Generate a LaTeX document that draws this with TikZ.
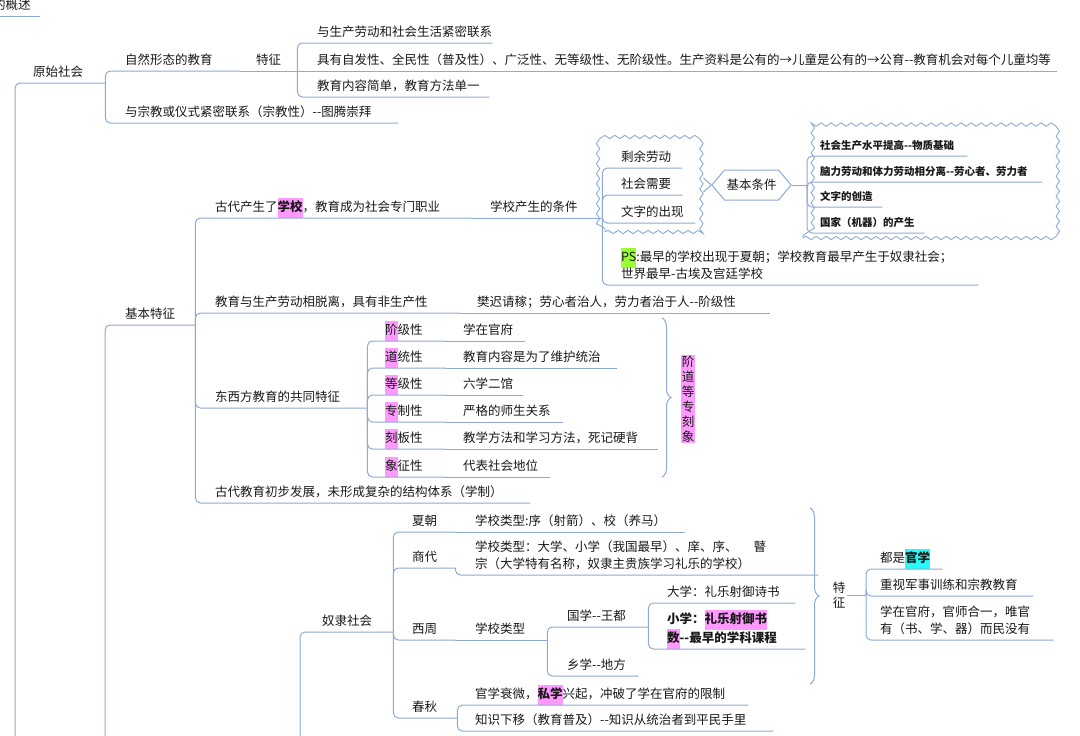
\documentclass[tikz,border=0pt]{standalone}
\usepackage{fontspec}
\setmainfont{Noto Sans CJK SC}[Ligatures=TeXOff]
\usetikzlibrary{decorations.pathmorphing,decorations.pathreplacing,shapes.symbols}
\exhyphenpenalty=10000
\definecolor{linkblue}{RGB}{143,170,214}
\definecolor{hlpink}{RGB}{255,153,255}
\definecolor{hlgreen}{RGB}{153,255,51}
\definecolor{hlcyan}{RGB}{40,250,250}
\definecolor{ink}{RGB}{25,25,25}
\newcommand\hlbox[2]{\smash{\setlength{\fboxsep}{0pt}\colorbox{#1}{\rule[-6.5pt]{0pt}{20pt}#2}}}

\begin{document}
\begin{tikzpicture}[x=1pt, y=-1pt,
    topic/.style={anchor=south west, inner xsep=0pt, inner ysep=3.5pt, align=left, text=ink,
      font=\fontsize{12.5}{17}\selectfont, execute at end node={\rule[-3pt]{0pt}{3pt}}},
    strong/.style={topic, font=\fontsize{10.5}{14}\selectfont\bfseries},
    link/.style={draw=linkblue, line width=1pt},
    elbow/.style={link, rounded corners=5pt, to path={|- (\tikztotarget)}},
    wavy/.style={draw=linkblue, line width=0.9pt, inner sep=0pt, decorate,
      decoration={snake, segment length=10pt, amplitude=1.7pt}},
    summary/.style={draw=linkblue, line width=1pt, decorate, decoration={brace, amplitude=9pt}},
    sumtopic/.style={shape=signal, signal to=east and west, signal pointer angle=100,
      draw=linkblue, line width=1pt, fill=white, text=ink, inner sep=2pt,
      font=\fontsize{12.5}{15}\selectfont}]
  \useasboundingbox (0,0) rectangle (1080,736);
  \clip (0,0) rectangle (1080,736);
  \fill[white] (0,0) rectangle (1080,736);

  % boundaries
  \node[wavy, minimum width=98pt, minimum height=94pt] (bd1) at (654,185) {};
  \node[wavy, minimum width=249pt, minimum height=110pt] (bd2) at (927.5,183) {};

  % root and off-picture bars
  \node[topic, text width=47pt] (gaishu) at (-7,16) {的概述};
  \coordinate (gsin) at (0,16);
  \coordinate (b0) at (15,740);
  \coordinate (b1) at (105,740);
  \coordinate (b2) at (300,740);

  % primitive society
  \node[topic, text width=72pt] (yuanshi) at (33,83) {原始社会};
  \node[topic, text width=115pt] (ziran) at (125,71) {自然形态的教育};
  \node[topic, text width=41pt] (tz1) at (256,71) {特征};
  \node[topic, text width=175pt] (tz1a) at (317,43) {与生产劳动和社会生活紧密联系};
  \node[topic, text width=740pt] (tz1b) at (317,71) {具有自发性、全民性（普及性）、广泛性、无等级性、无阶级性。生产资料是公有的→儿童是公有的→公育--教育机会对每个儿童均等};
  \node[topic, text width=172pt] (tz1c) at (317,97) {教育内容简单，教育方法单一};
  \node[topic, text width=273pt] (zongjiao) at (125,123) {与宗教或仪式紧密联系（宗教性）--图腾崇拜};

  % basic features
  \node[topic, text width=70pt] (jiben) at (125,325) {基本特征};
  \node[topic, text width=257pt] (gudai) at (215,218) {古代产生了\hlbox{hlpink}{\bfseries 学校}，教育成为社会专门职业};
  \node[topic, text width=112pt] (tiaojian) at (490,218) {学校产生的条件};
  \node[topic, text width=61pt] (shengyu) at (621,168) {剩余劳动};
  \node[topic, text width=61pt] (xuyao) at (621,195) {社会需要};
  \node[topic, text width=74pt] (wenzi) at (621,223) {文字的出现};
  \node[topic, text width=357pt] (ps) at (621,285) {\hlbox{hlgreen}{PS}:最早的学校出现于夏朝；学校教育最早产生于奴隶社会；\\世界最早-古埃及宫廷学校};
  \node[sumtopic, minimum width=77pt, minimum height=30pt] (jbtj) at (751.5,185) {基本条件};
  \coordinate (jbbar) at (807,185);
  \node[strong, text width=147pt] (wuzhi) at (820,156) {社会生产水平提高--物质基础};
  \node[strong, text width=222pt] (fenli) at (820,182) {脑力劳动和体力劳动相分离--劳心者、劳力者};
  \node[strong, text width=62pt] (chuangzao) at (820,207) {文字的创造};
  \node[strong, text width=104pt] (guojia) at (820,233) {国家（机器）的产生};

  \node[topic, text width=245pt] (tuoli) at (215,313) {教育与生产劳动相脱离，具有非生产性};
  \node[topic, text width=293pt] (fanchi) at (477,313) {樊迟请稼；劳心者治人，劳力者治于人--阶级性};

  \node[topic, text width=152pt] (dongxi) at (215,408) {东西方教育的共同特征};
  \node[topic, text width=60pt] (jieji) at (385,341) {\hlbox{hlpink}{阶}级性};
  \node[topic, text width=60pt] (daotong) at (385,368) {\hlbox{hlpink}{道}统性};
  \node[topic, text width=60pt] (dengji) at (385,395) {\hlbox{hlpink}{等}级性};
  \node[topic, text width=60pt] (zhuanzhi) at (385,422) {\hlbox{hlpink}{专}制性};
  \node[topic, text width=60pt] (keban) at (385,449) {\hlbox{hlpink}{刻}板性};
  \node[topic, text width=60pt] (xiangzh) at (385,477) {\hlbox{hlpink}{象}征性};
  \node[topic, text width=62pt] (guanfu) at (463,341) {学在官府};
  \node[topic, text width=154pt] (weihu) at (463,368) {教育内容是为了维护统治};
  \node[topic, text width=60pt] (liuxue) at (463,395) {六学二馆};
  \node[topic, text width=100pt] (shisheng) at (463,422) {严格的师生关系};
  \node[topic, text width=195pt] (yingbei) at (463,449) {教学方法和学习方法，死记硬背};
  \node[topic, text width=87pt] (diwei) at (463,477) {代表社会地位};
  \coordinate (br1t) at (662,318);
  \coordinate (br1b) at (662,477);
  \node[fill=hlpink, inner sep=0.5pt, align=center, text=ink,
    font=\fontsize{12.5}{15}\selectfont] (jdd) at (688,399) {阶\\道\\等\\专\\刻\\象};

  \node[topic, text width=315pt] (chubu) at (215,503) {古代教育初步发展，未形成复杂的结构体系（学制）};

  % slave society
  \node[topic, text width=71pt] (nuli) at (322,632) {奴隶社会};
  \node[topic, text width=43pt] (xia) at (412,532) {夏朝};
  \node[topic, text width=210pt] (xiac) at (475,532) {学校类型:序（射箭）、校（养马）};
  \node[topic, text width=43pt] (shang) at (412,568) {商代};
  \node[topic, text width=343pt] (shangc) at (475,575) {学校类型：大学、小学（我国最早）、庠、序、\hspace{16pt}瞽\\宗（大学特有名称，奴隶主贵族学习礼乐的学校）};
  \node[topic, text width=43pt] (xizhou) at (412,640) {西周};
  \node[topic, text width=72pt] (xzlx) at (475,640) {学校类型};
  \node[topic, text width=81pt] (guoxue) at (567,627) {国学--王都};
  \node[topic, text width=128pt] (daxue) at (667,603) {大学：礼乐射御诗书};
  \node[topic, text width=138pt, font=\fontsize{12.5}{19}\selectfont\bfseries] (xiaoxue) at (667,649) {小学：\hlbox{hlpink}{礼乐射御书}\\\hlbox{hlpink}{数}--最早的学科课程};
  \node[topic, text width=71pt] (xiangxue) at (567,676) {乡学--地方};
  \node[topic, text width=45pt] (chunqiu) at (412,718) {春秋};
  \node[topic, text width=273pt] (sixue) at (475,705) {官学衰微，\hlbox{hlpink}{\bfseries 私学}兴起，冲破了学在官府的限制};
  \node[topic, text width=298pt] (xiayi) at (475,731) {知识下移（教育普及）--知识从统治者到平民手里};
  \coordinate (br2t) at (810,508);
  \coordinate (br2b) at (810,684);
  \node[align=center, inner sep=2pt, text=ink, font=\fontsize{12.5}{14.5}\selectfont] (tz2) at (839,595) {特\\征};
  \coordinate (tz2bar) at (866,595);
  \node[topic, text width=62pt] (guanxue) at (880,569) {都是\hlbox{hlcyan}{\bfseries 官学}};
  \node[topic, text width=153pt] (junshi) at (880,596) {重视军事训练和宗教教育};
  \node[topic, text width=173pt] (guanshi) at (880,640) {学在官府，官师合一，唯官\\有（书、学、器）而民没有};

  % connectors
  \path (gsin) edge[link] (gaishu.south east);
  \path (b0) edge[elbow] (yuanshi.south east);
  \path (yuanshi.south east) edge[elbow] (ziran.south east) edge[elbow] (zongjiao.south east);
  \path (ziran.south east) edge[link] (tz1.south east);
  \path (tz1.south east) edge[elbow] (tz1a.south east) edge[link] (tz1b.south east) edge[elbow] (tz1c.south east);

  \path (b1) edge[elbow] (jiben.south east);
  \path (jiben.south east) edge[elbow] (gudai.south east) edge[elbow] (tuoli.south east)
    edge[elbow] (dongxi.south east) edge[elbow] (chubu.south east);
  \path (gudai.south east) edge[link] (tiaojian.south east);
  \path (tiaojian.south east) edge[elbow] (shengyu.south east) edge[elbow] (xuyao.south east)
    edge[elbow] (wenzi.south east) edge[elbow] (ps.south east);
  \path (jbtj.west) edge[link] ([yshift=7pt]bd1.east) edge[link] ([yshift=-7pt]bd1.east);
  \path (jbtj.east) edge[link] (jbbar);
  \path (jbbar) edge[elbow] (wuzhi.south east) edge[elbow] (fenli.south east)
    edge[elbow] (chuangzao.south east) edge[elbow] (guojia.south east);
  \path (tuoli.south east) edge[link] (fanchi.south east);
  \path (dongxi.south east) edge[elbow] (jieji.south east) edge[elbow] (daotong.south east)
    edge[elbow] (dengji.south east) edge[elbow] (zhuanzhi.south east)
    edge[elbow] (keban.south east) edge[elbow] (xiangzh.south east);
  \path (jieji.south east) edge[link] (guanfu.south east);
  \path (daotong.south east) edge[link] (weihu.south east);
  \path (dengji.south east) edge[link] (liuxue.south east);
  \path (zhuanzhi.south east) edge[link] (shisheng.south east);
  \path (keban.south east) edge[link] (yingbei.south east);
  \path (xiangzh.south east) edge[link] (diwei.south east);
  \path[summary] (br1t) -- (br1b);

  \path (b2) edge[elbow] (nuli.south east);
  \path (nuli.south east) edge[elbow] (xia.south east) edge[elbow] (shang.south east)
    edge[elbow] (xizhou.south east) edge[elbow] (chunqiu.south east);
  \path (xia.south east) edge[link] (xiac.south east);
  \path (shang.south east) edge[elbow] (shangc.south east);
  \path (xizhou.south east) edge[link] (xzlx.south east);
  \path (xzlx.south east) edge[elbow] (guoxue.south east) edge[elbow] (xiangxue.south east);
  \path (guoxue.south east) edge[elbow] (daxue.south east) edge[elbow] (xiaoxue.south east);
  \path (chunqiu.south east) edge[elbow] (sixue.south east) edge[elbow] (xiayi.south east);
  \path[summary] (br2t) -- (br2b);
  \path (tz2) edge[link] (tz2bar);
  \path (tz2bar) edge[elbow] (guanxue.south east) edge[elbow] (junshi.south east)
    edge[elbow] (guanshi.south east);
\end{tikzpicture}
\end{document}
